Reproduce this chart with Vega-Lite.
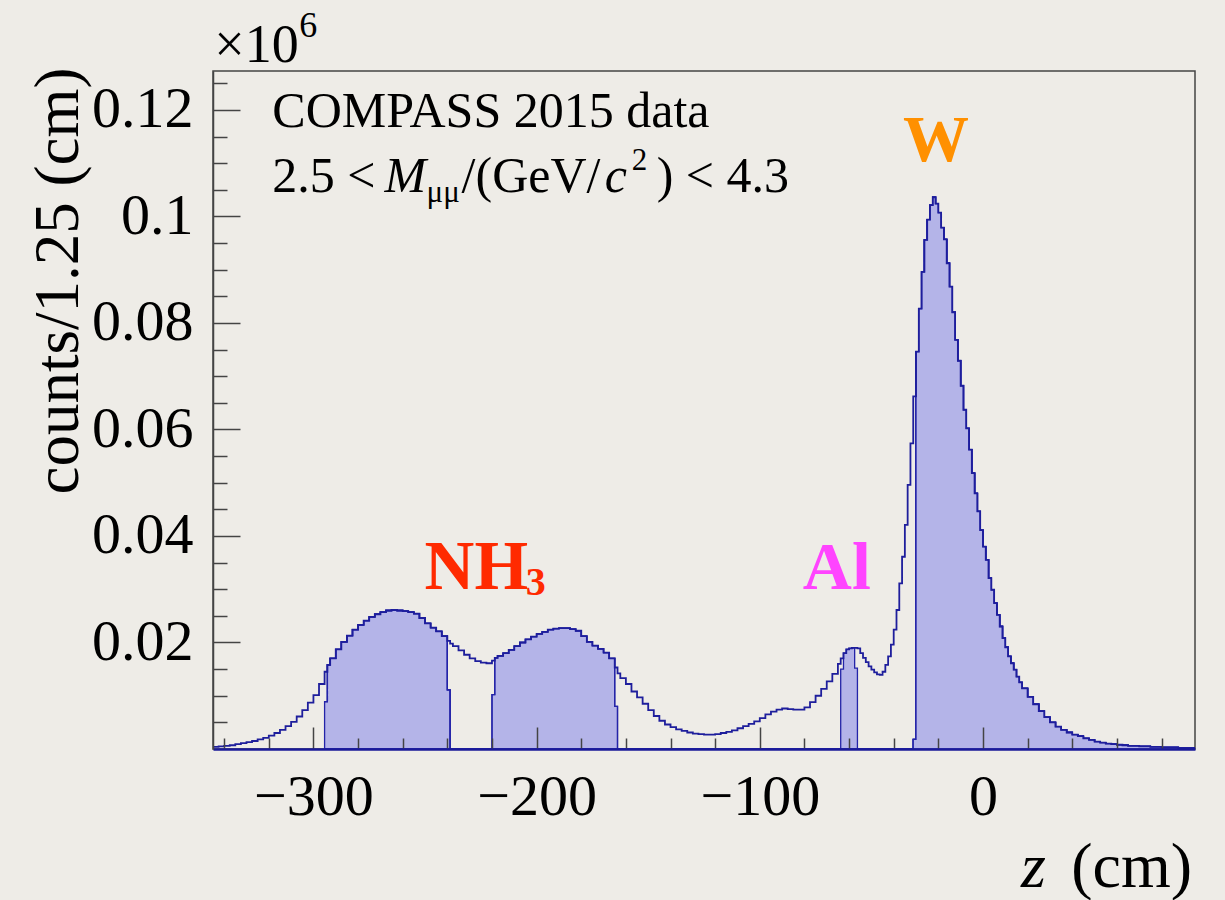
{
  "$schema": "https://vega.github.io/schema/vega-lite/v6.json",
  "width": 982,
  "height": 678,
  "autosize": {"type": "none"},
  "padding": {"left": 213, "top": 71, "right": 30, "bottom": 151},
  "background": "#EEECE7",
  "config": {
    "view": {"stroke": "#444444", "strokeWidth": 1.5, "fill": null},
    "text": {"font": "Liberation Serif", "fill": "black"}
  },
  "datasets": {
    "hist": [
      {"z": -345, "n": 0.0004}, {"z": -342.5, "n": 0.0005}, {"z": -340, "n": 0.0006}, {"z": -337.5, "n": 0.0007},
      {"z": -335, "n": 0.0009}, {"z": -332.5, "n": 0.0011}, {"z": -330, "n": 0.0013}, {"z": -327.5, "n": 0.0015},
      {"z": -325, "n": 0.0018}, {"z": -322.5, "n": 0.0021}, {"z": -320, "n": 0.0025}, {"z": -317.5, "n": 0.0030},
      {"z": -315, "n": 0.0036}, {"z": -312.5, "n": 0.0043}, {"z": -310, "n": 0.0051}, {"z": -307.5, "n": 0.0061},
      {"z": -305, "n": 0.0073}, {"z": -302.5, "n": 0.0087}, {"z": -300, "n": 0.0101}, {"z": -297.5, "n": 0.0122},
      {"z": -295, "n": 0.0145, "s": 0.0089, "g": "u"}, {"z": -293.75, "n": 0.0158, "s": 0.0158, "g": "u"},
      {"z": -292.5, "n": 0.0170, "s": 0.0170, "g": "u"}, {"z": -290, "n": 0.0187, "s": 0.0187, "g": "u"},
      {"z": -287.5, "n": 0.0201, "s": 0.0201, "g": "u"}, {"z": -285, "n": 0.0213, "s": 0.0213, "g": "u"},
      {"z": -282.5, "n": 0.0224, "s": 0.0224, "g": "u"}, {"z": -280, "n": 0.0233, "s": 0.0233, "g": "u"},
      {"z": -277.5, "n": 0.0241, "s": 0.0241, "g": "u"}, {"z": -275, "n": 0.0248, "s": 0.0248, "g": "u"},
      {"z": -272.5, "n": 0.0253, "s": 0.0253, "g": "u"}, {"z": -270, "n": 0.0257, "s": 0.0257, "g": "u"},
      {"z": -267.5, "n": 0.0260, "s": 0.0260, "g": "u"}, {"z": -265, "n": 0.0261, "s": 0.0261, "g": "u"},
      {"z": -262.5, "n": 0.0260, "s": 0.0260, "g": "u"}, {"z": -260, "n": 0.0259, "s": 0.0259, "g": "u"},
      {"z": -257.5, "n": 0.0257, "s": 0.0257, "g": "u"}, {"z": -255, "n": 0.0254, "s": 0.0254, "g": "u"},
      {"z": -252.5, "n": 0.0246, "s": 0.0246, "g": "u"}, {"z": -250, "n": 0.0236, "s": 0.0236, "g": "u"},
      {"z": -247.5, "n": 0.0228, "s": 0.0228, "g": "u"}, {"z": -245, "n": 0.0221, "s": 0.0221, "g": "u"},
      {"z": -242.5, "n": 0.0212, "s": 0.0212, "g": "u"}, {"z": -240, "n": 0.0203, "s": 0.0111, "g": "u"},
      {"z": -238.75, "n": 0.0198, "s": 0, "g": "u"},
      {"z": -237.5, "n": 0.0193}, {"z": -235, "n": 0.0185}, {"z": -232.5, "n": 0.0177}, {"z": -230, "n": 0.0170},
      {"z": -227.5, "n": 0.0165}, {"z": -225, "n": 0.0162}, {"z": -222.5, "n": 0.0161},
      {"z": -220, "n": 0.0166, "s": 0.0102, "g": "d"}, {"z": -218.75, "n": 0.0171, "s": 0.0171, "g": "d"},
      {"z": -217.5, "n": 0.0175, "s": 0.0175, "g": "d"}, {"z": -215, "n": 0.0180, "s": 0.0180, "g": "d"},
      {"z": -212.5, "n": 0.0186, "s": 0.0186, "g": "d"}, {"z": -210, "n": 0.0193, "s": 0.0193, "g": "d"},
      {"z": -207.5, "n": 0.0200, "s": 0.0200, "g": "d"}, {"z": -205, "n": 0.0206, "s": 0.0206, "g": "d"},
      {"z": -202.5, "n": 0.0211, "s": 0.0211, "g": "d"}, {"z": -200, "n": 0.0216, "s": 0.0216, "g": "d"},
      {"z": -197.5, "n": 0.0220, "s": 0.0220, "g": "d"}, {"z": -195, "n": 0.0224, "s": 0.0224, "g": "d"},
      {"z": -192.5, "n": 0.0226, "s": 0.0226, "g": "d"}, {"z": -190, "n": 0.0227, "s": 0.0227, "g": "d"},
      {"z": -187.5, "n": 0.0227, "s": 0.0227, "g": "d"}, {"z": -185, "n": 0.0225, "s": 0.0225, "g": "d"},
      {"z": -182.5, "n": 0.0222, "s": 0.0222, "g": "d"}, {"z": -180, "n": 0.0212, "s": 0.0212, "g": "d"},
      {"z": -177.5, "n": 0.0201, "s": 0.0201, "g": "d"}, {"z": -175, "n": 0.0194, "s": 0.0194, "g": "d"},
      {"z": -172.5, "n": 0.0188, "s": 0.0188, "g": "d"}, {"z": -170, "n": 0.0181, "s": 0.0181, "g": "d"},
      {"z": -167.5, "n": 0.0170, "s": 0.0170, "g": "d"}, {"z": -165, "n": 0.0153, "s": 0.0080, "g": "d"},
      {"z": -163.75, "n": 0.0142, "s": 0, "g": "d"},
      {"z": -162.5, "n": 0.0133}, {"z": -160, "n": 0.0122}, {"z": -157.5, "n": 0.0108}, {"z": -155, "n": 0.0097},
      {"z": -152.5, "n": 0.0085}, {"z": -150, "n": 0.0073}, {"z": -147.5, "n": 0.0062}, {"z": -145, "n": 0.0053},
      {"z": -142.5, "n": 0.0046}, {"z": -140, "n": 0.0041}, {"z": -137.5, "n": 0.0037}, {"z": -135, "n": 0.0034},
      {"z": -132.5, "n": 0.0031}, {"z": -130, "n": 0.0029}, {"z": -127.5, "n": 0.0028}, {"z": -125, "n": 0.0027},
      {"z": -122.5, "n": 0.0027}, {"z": -120, "n": 0.0028}, {"z": -117.5, "n": 0.0030}, {"z": -115, "n": 0.0032},
      {"z": -112.5, "n": 0.0035}, {"z": -110, "n": 0.0039}, {"z": -107.5, "n": 0.0043}, {"z": -105, "n": 0.0047},
      {"z": -102.5, "n": 0.0052}, {"z": -100, "n": 0.0058}, {"z": -97.5, "n": 0.0065}, {"z": -95, "n": 0.0070},
      {"z": -92.5, "n": 0.0074}, {"z": -90, "n": 0.0076}, {"z": -87.5, "n": 0.0075}, {"z": -85, "n": 0.0074},
      {"z": -82.5, "n": 0.0074}, {"z": -80, "n": 0.0078}, {"z": -77.5, "n": 0.0088}, {"z": -75, "n": 0.0100},
      {"z": -72.5, "n": 0.0113}, {"z": -70, "n": 0.0127}, {"z": -67.5, "n": 0.0141}, {"z": -65, "n": 0.0160},
      {"z": -63.75, "n": 0.0170, "s": 0.0150, "g": "a"}, {"z": -62.5, "n": 0.0180, "s": 0.0180, "g": "a"},
      {"z": -61.25, "n": 0.0187, "s": 0.0187, "g": "a"}, {"z": -60, "n": 0.0189, "s": 0.0189, "g": "a"},
      {"z": -58.75, "n": 0.0190, "s": 0.0190, "g": "a"}, {"z": -57.5, "n": 0.0190, "s": 0.0152, "g": "a"},
      {"z": -56.25, "n": 0.0189, "s": 0, "g": "a"},
      {"z": -55, "n": 0.0180}, {"z": -53.75, "n": 0.0171}, {"z": -52.5, "n": 0.0163}, {"z": -51.25, "n": 0.0155},
      {"z": -50, "n": 0.0149}, {"z": -48.75, "n": 0.0144}, {"z": -47.5, "n": 0.0140}, {"z": -46.25, "n": 0.0139},
      {"z": -45, "n": 0.0145}, {"z": -43.75, "n": 0.0158}, {"z": -42.5, "n": 0.0174}, {"z": -41.25, "n": 0.0196},
      {"z": -40, "n": 0.0224}, {"z": -38.75, "n": 0.0261}, {"z": -37.5, "n": 0.0311}, {"z": -36.25, "n": 0.0361},
      {"z": -35, "n": 0.0421}, {"z": -33.75, "n": 0.0496}, {"z": -32.5, "n": 0.0574},
      {"z": -31.25, "n": 0.0662, "s": 0.0018, "g": "w"}, {"z": -30, "n": 0.0746, "s": 0.0746, "g": "w"},
      {"z": -28.75, "n": 0.0827, "s": 0.0827, "g": "w"}, {"z": -27.5, "n": 0.0896, "s": 0.0896, "g": "w"},
      {"z": -26.25, "n": 0.0956, "s": 0.0956, "g": "w"}, {"z": -25, "n": 0.0994, "s": 0.0994, "g": "w"},
      {"z": -23.75, "n": 0.1021, "s": 0.1021, "g": "w"}, {"z": -22.5, "n": 0.1036, "s": 0.1036, "g": "w"},
      {"z": -21.25, "n": 0.1024, "s": 0.1024, "g": "w"}, {"z": -20, "n": 0.1007, "s": 0.1007, "g": "w"},
      {"z": -18.75, "n": 0.0979, "s": 0.0979, "g": "w"}, {"z": -17.5, "n": 0.0957, "s": 0.0957, "g": "w"},
      {"z": -16.25, "n": 0.0912, "s": 0.0912, "g": "w"}, {"z": -15, "n": 0.0868, "s": 0.0868, "g": "w"},
      {"z": -13.75, "n": 0.0820, "s": 0.0820, "g": "w"}, {"z": -12.5, "n": 0.0768, "s": 0.0768, "g": "w"},
      {"z": -11.25, "n": 0.0729, "s": 0.0729, "g": "w"}, {"z": -10, "n": 0.0682, "s": 0.0682, "g": "w"},
      {"z": -8.75, "n": 0.0637, "s": 0.0637, "g": "w"}, {"z": -7.5, "n": 0.0602, "s": 0.0602, "g": "w"},
      {"z": -6.25, "n": 0.0562, "s": 0.0562, "g": "w"}, {"z": -5, "n": 0.0518, "s": 0.0518, "g": "w"},
      {"z": -3.75, "n": 0.0480, "s": 0.0480, "g": "w"}, {"z": -2.5, "n": 0.0446, "s": 0.0446, "g": "w"},
      {"z": -1.25, "n": 0.0411, "s": 0.0411, "g": "w"}, {"z": 0, "n": 0.0380, "s": 0.0380, "g": "w"},
      {"z": 1.25, "n": 0.0355, "s": 0.0355, "g": "w"}, {"z": 2.5, "n": 0.0321, "s": 0.0321, "g": "w"},
      {"z": 3.75, "n": 0.0299, "s": 0.0299, "g": "w"}, {"z": 5, "n": 0.0274, "s": 0.0274, "g": "w"},
      {"z": 6.25, "n": 0.0252, "s": 0.0252, "g": "w"}, {"z": 7.5, "n": 0.0230, "s": 0.0230, "g": "w"},
      {"z": 8.75, "n": 0.0208, "s": 0.0208, "g": "w"}, {"z": 10, "n": 0.0191, "s": 0.0191, "g": "w"},
      {"z": 11.25, "n": 0.0174, "s": 0.0174, "g": "w"}, {"z": 12.5, "n": 0.0161, "s": 0.0161, "g": "w"},
      {"z": 13.75, "n": 0.0149, "s": 0.0149, "g": "w"}, {"z": 15, "n": 0.0136, "s": 0.0136, "g": "w"},
      {"z": 16.25, "n": 0.0125, "s": 0.0125, "g": "w"}, {"z": 17.5, "n": 0.0114, "s": 0.0114, "g": "w"},
      {"z": 20, "n": 0.0098, "s": 0.0098, "g": "w"}, {"z": 22.5, "n": 0.0084, "s": 0.0084, "g": "w"},
      {"z": 25, "n": 0.0071, "s": 0.0071, "g": "w"}, {"z": 27.5, "n": 0.0060, "s": 0.0060, "g": "w"},
      {"z": 30, "n": 0.0050, "s": 0.0050, "g": "w"}, {"z": 32.5, "n": 0.0042, "s": 0.0042, "g": "w"},
      {"z": 35, "n": 0.0036, "s": 0.0036, "g": "w"}, {"z": 37.5, "n": 0.0031, "s": 0.0031, "g": "w"},
      {"z": 40, "n": 0.0027, "s": 0.0027, "g": "w"}, {"z": 42.5, "n": 0.0024, "s": 0.0024, "g": "w"},
      {"z": 45, "n": 0.0020, "s": 0.0020, "g": "w"}, {"z": 47.5, "n": 0.0017, "s": 0.0017, "g": "w"},
      {"z": 50, "n": 0.0014, "s": 0.0014, "g": "w"}, {"z": 52.5, "n": 0.0012, "s": 0.0012, "g": "w"},
      {"z": 55, "n": 0.0010, "s": 0.0010, "g": "w"}, {"z": 57.5, "n": 0.0009, "s": 0.0009, "g": "w"},
      {"z": 60, "n": 0.0008, "s": 0.0008, "g": "w"}, {"z": 62.5, "n": 0.0007, "s": 0.0007, "g": "w"},
      {"z": 65, "n": 0.0006, "s": 0.0006, "g": "w"}, {"z": 67.5, "n": 0.0006, "s": 0.0006, "g": "w"},
      {"z": 70, "n": 0.0005, "s": 0.0005, "g": "w"}, {"z": 72.5, "n": 0.0005, "s": 0.0005, "g": "w"},
      {"z": 75, "n": 0.0004, "s": 0.0004, "g": "w"}, {"z": 77.5, "n": 0.0004, "s": 0.0004, "g": "w"},
      {"z": 80, "n": 0.0003, "s": 0.0003, "g": "w"}, {"z": 82.5, "n": 0.0003, "s": 0.0003, "g": "w"},
      {"z": 85, "n": 0.0003, "s": 0.0003, "g": "w"}, {"z": 87.5, "n": 0.0002, "s": 0.0002, "g": "w"},
      {"z": 90, "n": 0.0002, "s": 0.0002, "g": "w"}, {"z": 92.5, "n": 0.0002, "s": 0.0002, "g": "w"},
      {"z": 95, "n": 0, "s": 0, "g": "w"}
    ]
  },
  "layer": [
    {
      "data": {"name": "hist"},
      "transform": [{"filter": "isValid(datum.g)"}],
      "mark": {"type": "area", "interpolate": "step-after", "fill": "#B4B4E8", "fillOpacity": 1, "stroke": "#2424A8", "strokeWidth": 1.3, "clip": true},
      "encoding": {
        "x": {"field": "z", "type": "quantitative", "scale": {"domain": [-345, 95], "nice": false, "zero": false},
          "axis": {
            "values": [-340, -320, -300, -280, -260, -240, -220, -200, -180, -160, -140, -120, -100, -80, -60, -40, -20, 0, 20, 40, 60, 80],
            "tickCount": 100,
            "labelExpr": "datum.value % 100 === 0 ? datum.label : ''",
            "title": null,
            "labelFont": "Liberation Serif", "labelFontSize": 58, "labelColor": "black", "labelPadding": 41,
            "labelFlush": false, "labelOverlap": false,
            "tickSize": {"condition": {"test": "datum.value % 100 === 0", "value": -22}, "value": -11},
            "tickColor": "#444444", "tickWidth": 1.5,
            "domainColor": "#1A1A99", "domainWidth": 2.5, "grid": false, "zindex": 1
          }
        },
        "y": {"field": "s", "type": "quantitative", "scale": {"domain": [0, 0.1273], "nice": false},
          "axis": {
            "values": [0.005, 0.01, 0.015, 0.02, 0.025, 0.03, 0.035, 0.04, 0.045, 0.05, 0.055, 0.06, 0.065, 0.07, 0.075, 0.08, 0.085, 0.09, 0.095, 0.1, 0.105, 0.11, 0.115, 0.12, 0.125],
            "tickCount": 100,
            "format": "~g",
            "labelExpr": "indexof([0.02, 0.04, 0.06, 0.08, 0.1, 0.12], datum.value) >= 0 ? datum.label : ''",
            "title": "counts/1.25 (cm)",
            "titleFont": "Liberation Serif", "titleFontSize": 63, "titleFontWeight": "normal", "titleColor": "black",
            "titleX": -136, "titleY": -4, "titleAlign": "right", "titleAngle": -90, "titleBaseline": "alphabetic",
            "labelFont": "Liberation Serif", "labelFontSize": 58, "labelColor": "black", "labelPadding": 47,
            "labelOverlap": false, "labelFlush": false,
            "tickSize": {"condition": {"test": "indexof([0.02, 0.04, 0.06, 0.08, 0.1, 0.12], datum.value) >= 0", "value": -27}, "value": -14},
            "tickColor": "#444444", "tickWidth": 1.5,
            "domainColor": "#444444", "domainWidth": 1.5, "grid": false, "zindex": 1
          }
        },
        "detail": {"field": "g"}
      }
    },
    {
      "data": {"name": "hist"},
      "mark": {"type": "line", "interpolate": "step-after", "stroke": "#1E1E9C", "strokeWidth": 1.8, "clip": true},
      "encoding": {
        "x": {"field": "z", "type": "quantitative"},
        "y": {"field": "n", "type": "quantitative"}
      }
    },
    {
      "data": {"values": [
        {"t": "COMPASS 2015 data", "x": -318.4, "y": 0.1167},
        {"t": "2.5 <", "x": -318.4, "y": 0.1046},
        {"t": "/(GeV/", "x": -233.6, "y": 0.1046},
        {"t": ") < 4.3", "x": -146.2, "y": 0.1046}
      ]},
      "mark": {"type": "text", "align": "left", "baseline": "alphabetic", "fontSize": 50},
      "encoding": {"x": {"field": "x", "type": "quantitative"}, "y": {"field": "y", "type": "quantitative"}, "text": {"field": "t"}}
    },
    {
      "data": {"values": [
        {"t": "M", "x": -268.2, "y": 0.1046},
        {"t": "c", "x": -169.5, "y": 0.1046}
      ]},
      "mark": {"type": "text", "align": "left", "baseline": "alphabetic", "fontSize": 50, "fontStyle": "italic"},
      "encoding": {"x": {"field": "x", "type": "quantitative"}, "y": {"field": "y", "type": "quantitative"}, "text": {"field": "t"}}
    },
    {
      "data": {"values": [
        {"t": "μμ", "x": -249.3, "y": 0.1027},
        {"t": "2", "x": -157.4, "y": 0.1087}
      ]},
      "mark": {"type": "text", "align": "left", "baseline": "alphabetic", "fontSize": 31},
      "encoding": {"x": {"field": "x", "type": "quantitative"}, "y": {"field": "y", "type": "quantitative"}, "text": {"field": "t"}}
    },
    {
      "data": {"values": [
        {"t": "×10", "x": -344.4, "y": 0.1290}
      ]},
      "mark": {"type": "text", "align": "left", "baseline": "alphabetic", "fontSize": 54},
      "encoding": {"x": {"field": "x", "type": "quantitative"}, "y": {"field": "y", "type": "quantitative"}, "text": {"field": "t"}}
    },
    {
      "data": {"values": [
        {"t": "6", "x": -306.3, "y": 0.1336}
      ]},
      "mark": {"type": "text", "align": "left", "baseline": "alphabetic", "fontSize": 36},
      "encoding": {"x": {"field": "x", "type": "quantitative"}, "y": {"field": "y", "type": "quantitative"}, "text": {"field": "t"}}
    },
    {
      "data": {"values": [
        {"t": "(cm)", "x": 93.7, "y": -0.026}
      ]},
      "mark": {"type": "text", "align": "right", "baseline": "alphabetic", "fontSize": 64},
      "encoding": {"x": {"field": "x", "type": "quantitative"}, "y": {"field": "y", "type": "quantitative"}, "text": {"field": "t"}}
    },
    {
      "data": {"values": [
        {"t": "z", "x": 17.0, "y": -0.026}
      ]},
      "mark": {"type": "text", "align": "left", "baseline": "alphabetic", "fontSize": 64, "fontStyle": "italic"},
      "encoding": {"x": {"field": "x", "type": "quantitative"}, "y": {"field": "y", "type": "quantitative"}, "text": {"field": "t"}}
    },
    {
      "data": {"values": [
        {"t": "NH", "x": -250.2, "y": 0.0301}
      ]},
      "mark": {"type": "text", "align": "left", "baseline": "alphabetic", "fontSize": 69, "fontWeight": "bold", "fill": "#FF2A00"},
      "encoding": {"x": {"field": "x", "type": "quantitative"}, "y": {"field": "y", "type": "quantitative"}, "text": {"field": "t"}}
    },
    {
      "data": {"values": [
        {"t": "3", "x": -204.9, "y": 0.0290}
      ]},
      "mark": {"type": "text", "align": "left", "baseline": "alphabetic", "fontSize": 40, "fontWeight": "bold", "fill": "#FF2A00"},
      "encoding": {"x": {"field": "x", "type": "quantitative"}, "y": {"field": "y", "type": "quantitative"}, "text": {"field": "t"}}
    },
    {
      "data": {"values": [
        {"t": "Al", "x": -80.7, "y": 0.0301}
      ]},
      "mark": {"type": "text", "align": "left", "baseline": "alphabetic", "fontSize": 68, "fontWeight": "bold", "fill": "#FF44FF"},
      "encoding": {"x": {"field": "x", "type": "quantitative"}, "y": {"field": "y", "type": "quantitative"}, "text": {"field": "t"}}
    },
    {
      "data": {"values": [
        {"t": "W", "x": -21.1, "y": 0.1104}
      ]},
      "mark": {"type": "text", "align": "center", "baseline": "alphabetic", "fontSize": 66, "fontWeight": "bold", "fill": "#FF9000"},
      "encoding": {"x": {"field": "x", "type": "quantitative"}, "y": {"field": "y", "type": "quantitative"}, "text": {"field": "t"}}
    }
  ]
}
